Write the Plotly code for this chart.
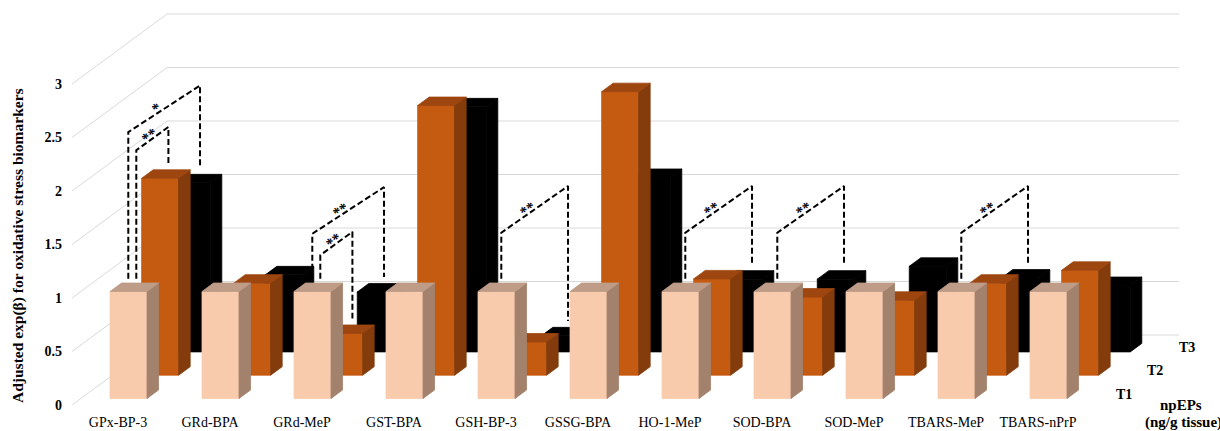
import math
import plotly.graph_objects as go

# ---------------- data ----------------
categories = ["GPx-BP-3", "GRd-BPA", "GRd-MeP", "GST-BPA", "GSH-BP-3", "GSSG-BPA",
              "HO-1-MeP", "SOD-BPA", "SOD-MeP", "TBARS-MeP", "TBARS-nPrP"]
series_names = ["T1", "T2", "T3"]
t1_values = [1.00, 1.00, 1.00, 1.00, 1.00, 1.00, 1.00, 1.00, 1.00, 1.00, 1.00]
t2_values = [1.84, 0.86, 0.39, 2.52, 0.31, 2.65, 0.90, 0.73, 0.70, 0.86, 0.98]
t3_values = [1.58, 0.72, 0.56, 2.29, 0.15, 1.63, 0.68, 0.68, 0.80, 0.69, 0.62]
y_tick_values = [0, 0.5, 1, 1.5, 2, 2.5, 3]
y_tick_labels = ["0", "0.5", "1", "1.5", "2", "2.5", "3"]
y_title = "Adjusted exp(\u03b2) for oxidative stress biomarkers"
depth_title = ["npEPs", "(ng/g tissue)"]

# significance brackets: category index, compared series index (vs T1), bracket level, label, nesting
brackets = [
    (0, 1, 2.28, "**", "inner"),
    (0, 2, 2.45, "*", "outer"),
    (2, 1, 1.30, "**", "inner"),
    (2, 2, 1.50, "**", "outer"),
    (4, 2, 1.51, "**", "single"),
    (6, 2, 1.51, "**", "single"),
    (7, 2, 1.51, "**", "single"),
    (9, 2, 1.51, "**", "single"),
]

series_values = [t1_values, t2_values, t3_values]

# ---------------- geometry (oblique 3-D projection) ----------------
W, H = 1220, 431
ML, MB = 72, 26
PX_X, PX_Y = 92.0, 107.0
DEPTH_X = 95.0 / PX_X
DEPTH_Y = 70.0 / PX_Y
ROW_FRONT = [6.5 / 70, 29.8 / 70, 53.1 / 70]
BAR_DEPTH = 8.5 / 70
BAR_LEFT = 29.2 / PX_X
BAR_W = 37.0 / PX_X
N = len(categories)

FONT = "Liberation Serif"
GRID = "#D9D9D9"
FACE_COLORS = [
    {"front": "#F8CBAD", "side": "#A3826D", "top": "#BE9C87"},
    {"front": "#C55A11", "side": "#843C0C", "top": "#9E4610"},
    {"front": "#000000", "side": "#000000", "top": "#000000"},
]


def proj(x, d, v):
    return x + d * DEPTH_X, v + d * DEPTH_Y


fig = go.Figure()

# walls' gridlines
gx, gy = [], []
for v in y_tick_values:
    p0 = proj(0, 0, v)
    p1 = proj(0, 1, v)
    p2 = proj(N, 1, v)
    gx += [p0[0], p1[0], p2[0], None]
    gy += [p0[1], p1[1], p2[1], None]
fig.add_trace(go.Scatter(x=gx, y=gy, mode="lines", line=dict(color=GRID, width=1),
                         hoverinfo="skip", showlegend=False))

# bars: back row first
for k in [2, 1, 0]:
    vals = series_values[k]
    d0 = ROW_FRONT[k]
    d1 = d0 + BAR_DEPTH
    faces = {"front": ([], []), "side": ([], []), "top": ([], [])}
    for i, v in enumerate(vals):
        x0 = i + BAR_LEFT
        x1 = x0 + BAR_W
        polys = {
            "front": [(x0, d0, 0), (x1, d0, 0), (x1, d0, v), (x0, d0, v)],
            "side": [(x1, d0, 0), (x1, d1, 0), (x1, d1, v), (x1, d0, v)],
            "top": [(x0, d0, v), (x1, d0, v), (x1, d1, v), (x0, d1, v)],
        }
        for name, pts in polys.items():
            xs, ys = faces[name]
            for p in pts + [pts[0]]:
                px, py = proj(*p)
                xs.append(px)
                ys.append(py)
            xs.append(None)
            ys.append(None)
    for name in ["front", "side", "top"]:
        xs, ys = faces[name]
        fig.add_trace(go.Scatter(x=xs, y=ys, mode="lines", fill="toself",
                                 fillcolor=FACE_COLORS[k][name],
                                 line=dict(width=0.8, color=FACE_COLORS[k][name]),
                                 hoverinfo="skip", showlegend=False,
                                 name=series_names[k]))

# significance brackets
GAP_L, GAP_R = 0.08, 0.10
NUDGE_L = {"inner": 2.0, "outer": -6.0, "single": -1.0}
annotations = []
for cat, tgt, level, label, role in brackets:
    xcL = cat + BAR_LEFT + BAR_W / 2 + NUDGE_L[role] / PX_X
    xcR = cat + BAR_LEFT + BAR_W / 2 + 2.5 / PX_X
    dL = ROW_FRONT[0] + BAR_DEPTH / 2
    dR = ROW_FRONT[tgt] + BAR_DEPTH / 2
    pts = [proj(xcL, dL, series_values[0][cat] + GAP_L),
           proj(xcL, dL, level),
           proj(xcR, dR, level),
           proj(xcR, dR, series_values[tgt][cat] + GAP_R)]
    fig.add_trace(go.Scatter(x=[p[0] for p in pts], y=[p[1] for p in pts], mode="lines",
                             line=dict(color="black", width=2, dash="6px,3px"),
                             hoverinfo="skip", showlegend=False))
    a, b = pts[1], pts[2]
    t = 0.4
    lx = a[0] + t * (b[0] - a[0])
    ly = a[1] + t * (b[1] - a[1])
    ang = math.degrees(math.atan2((b[1] - a[1]) * PX_Y, (b[0] - a[0]) * PX_X))
    annotations.append(dict(x=lx, y=ly, xref="x", yref="y", text="<b>%s</b>" % label,
                            showarrow=False, textangle=-ang, yshift=5,
                            xanchor="center", yanchor="middle",
                            font=dict(family=FONT, size=15, color="black")))

# depth-axis (series) labels
for k, nm in enumerate(series_names):
    dc = ROW_FRONT[k] + BAR_DEPTH / 2
    px, py = proj(N, dc, 0)
    annotations.append(dict(x=px + 25 / PX_X, y=py, xref="x", yref="y", text="<b>%s</b>" % nm,
                            showarrow=False, xanchor="center", yanchor="middle",
                            font=dict(family=FONT, size=14, color="black")))

plot_w = W - ML
plot_h = H - MB
annotations.append(dict(x=(1181 - ML) / plot_w, y=(H - MB - 405) / plot_h, xref="paper", yref="paper",
                        text="<b>%s</b>" % depth_title[0], showarrow=False, xanchor="center",
                        yanchor="middle", font=dict(family=FONT, size=15, color="black")))
annotations.append(dict(x=(1143 - ML) / plot_w, y=(H - MB - 422) / plot_h, xref="paper", yref="paper",
                        text="<b>%s</b>" % depth_title[1], showarrow=False, xanchor="left",
                        yanchor="middle", font=dict(family=FONT, size=15, color="black")))
annotations.append(dict(x=(18 - ML) / plot_w, y=(H - MB - 246) / plot_h, xref="paper", yref="paper",
                        text="<b>%s</b>" % y_title, showarrow=False, textangle=-90,
                        xanchor="center", yanchor="middle",
                        font=dict(family=FONT, size=15.5, color="black")))

fig.update_layout(
    width=W, height=H,
    margin=dict(l=ML, r=0, t=0, b=MB, pad=0),
    paper_bgcolor="white", plot_bgcolor="white",
    showlegend=False,
    annotations=annotations,
    xaxis=dict(range=[0, plot_w / PX_X], tickmode="array",
               tickvals=[i + 0.5 for i in range(N)], ticktext=categories,
               showgrid=False, zeroline=False, showline=False, ticks="",
               tickfont=dict(family=FONT, size=14, color="black"),
               ticklabelstandoff=7,
               automargin=False, fixedrange=True),
    yaxis=dict(range=[0, plot_h / PX_Y], tickmode="array",
               tickvals=y_tick_values, ticktext=y_tick_labels,
               showgrid=False, zeroline=False, showline=False, ticks="",
               tickfont=dict(family=FONT, size=14, color="black", weight="bold"),
               ticklabelstandoff=9,
               automargin=False, fixedrange=True),
)

fig.write_html("out.html", config={"displayModeBar": False})
